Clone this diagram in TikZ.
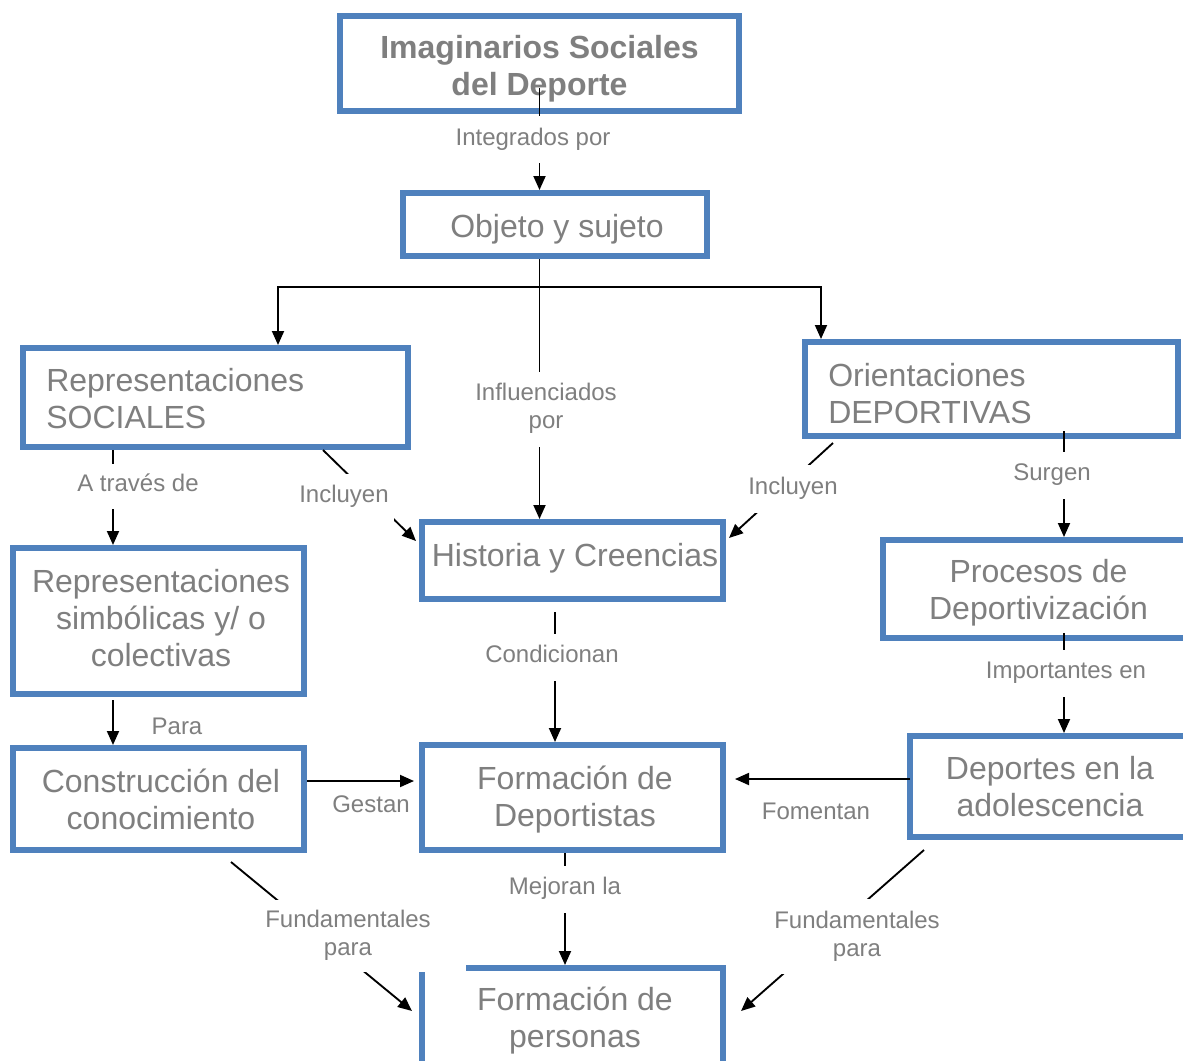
\documentclass[tikz,border=0pt]{standalone}
\usepackage{fontspec}
\setmainfont{Liberation Sans}
\usetikzlibrary{arrows.meta,calc}
\definecolor{boxblue}{HTML}{4F81BD}
\definecolor{txtgray}{HTML}{7F7F7F}
\tikzset{
  box/.style={draw=boxblue, line width=4.5pt, rectangle, inner sep=0pt},
  btxt/.style={font=\fontsize{24}{27.75}\selectfont, text=txtgray, align=center, inner sep=0pt},
  ttl/.style={font=\bfseries\fontsize{24}{27.75}\selectfont, text=txtgray, align=center, inner sep=0pt},
  lbl/.style={font=\fontsize{18}{21}\selectfont, text=txtgray, align=center, inner sep=0pt, fill=white},
  conn/.style={line width=1.4pt, -{Triangle[length=10.5pt,width=9pt]}},
}
\begin{document}
\begin{tikzpicture}[x=0.75pt,y=-0.75pt]
\useasboundingbox (0,0) rectangle (1183,1061);
\clip (0,0) rectangle (1183,1061);
\fill[white] (0,0) rectangle (1183,1061);

% boxes
\node[box, minimum width=299.25pt, minimum height=71.25pt] (title) at (539.5,63.5) {};
\node[box, minimum width=228pt, minimum height=47.25pt] (objeto) at (555,224.5) {};
\node[box, minimum width=288.75pt, minimum height=74.25pt] (repsoc) at (215.5,397.5) {};
\node[box, minimum width=279.75pt, minimum height=70.5pt] (orient) at (991.5,389) {};
\node[box, minimum width=225.75pt, minimum height=57.75pt] (hist) at (572.5,560.5) {};
\node[box, minimum width=218.25pt, minimum height=109.5pt] (repsimb) at (158.5,621) {};
\node[box, minimum width=237.75pt, minimum height=73.5pt] (procesos) at (1041.5,589) {};
\node[box, minimum width=218.25pt, minimum height=76.5pt] (construc) at (158.5,799) {};
\node[box, minimum width=225.75pt, minimum height=78.75pt] (formdep) at (572.5,797.5) {};
\node[box, minimum width=217.5pt, minimum height=75.75pt] (deportes) at (1055,786.5) {};
\node[box, minimum width=225.75pt, minimum height=80.25pt] (formper) at (572.5,1021.5) {};

% box texts
\node[ttl, anchor=north] (ttitle) at (539.5,32) {Imaginarios Sociales\strut\\del Deporte\strut};
\node[btxt, anchor=north] (tobjeto) at (557,211) {Objeto y sujeto\strut};
\node[btxt, anchor=north west, align=left] (trepsoc) at (46,365.5) {Representaciones\strut\\SOCIALES\strut};
\node[btxt, anchor=north west, align=left] (torient) at (828,360.5) {Orientaciones\strut\\DEPORTIVAS\strut};
\node[btxt, anchor=north] (thist) at (575,540) {Historia y Creencias\strut};
\node[btxt, anchor=north] (trepsimb) at (161,566) {Representaciones\strut\\simbólicas y/ o\strut\\colectivas\strut};
\node[btxt, anchor=north] (tprocesos) at (1038.5,556.5) {Procesos de\strut\\Deportivización\strut};
\node[btxt, anchor=north] (tconstruc) at (161,766) {Construcción del\strut\\conocimiento\strut};
\node[btxt, anchor=north] (tformdep) at (575,763.5) {Formación de\strut\\Deportistas\strut};
\node[btxt, anchor=north] (tdeportes) at (1050,753.5) {Deportes en la\strut\\adolescencia\strut};
\node[btxt, anchor=north] (tformper) at (575,984) {Formación de\strut\\personas\strut};

% connectors
\coordinate (br) at (539.5,287);
\draw[conn] ([yshift=19.5pt]title.south) -- (title.south |- objeto.north);
\draw[conn] (title.south |- objeto.south) -- (title.south |- hist.north);
\draw[conn] (br) -| ($(repsoc.north west)+(258,0)$);
\draw[conn] (br) -| ($(orient.north west)+(19,0)$);
\draw[conn] ($(repsoc.south west)+(93,0)$) -- ($(repsimb.north west)+(103,0)$);
\draw[conn] ($(repsoc.south east)+(-88,0)$) -- ($(hist.north west)+(-3,22)$);
\draw[conn] ($(orient.south west)+(31,4)$) -- ($(hist.north east)+(3,19)$);
\draw[conn] ($(orient.south west)+(262,-8)$) -- ($(procesos.north west)+(184,0)$);
\draw[conn] ($(hist.south)+(-17.5,10)$) -- ($(formdep.north)+(-17.5,0)$);
\draw[conn] ($(repsimb.south west)+(103,3)$) -- ($(construc.north west)+(103,0)$);
\draw[conn] ($(construc.east)+(0,-18)$) -- ($(formdep.west)+(-5,-16.5)$);
\draw[conn] ($(procesos.south west)+(184,-8)$) -- ($(deportes.north west)+(157,0)$);
\draw[conn] ($(deportes.west)+(3,-7.5)$) -- ($(formdep.east)+(9,-18.5)$);
\draw[conn] ($(formdep.south)+(-7.5,0)$) -- ($(formper.north)+(-7.5,0)$);
\draw[conn] ($(construc.south east)+(-76,9)$) -- ($(formper.north west)+(-7,46)$);
\draw[conn] ($(deportes.south west)+(17,10)$) -- ($(formper.north east)+(15,46)$);

% labels
\node[lbl, minimum width=127.5pt, minimum height=35.25pt] (l1) at (533,139.5) {Integrados por\strut};
\node[lbl, minimum width=120pt, minimum height=56.25pt] (l2) at (546,409) {Influenciados\strut\\por\strut};
\node[lbl, minimum width=97.5pt, minimum height=33.75pt] (l3) at (138,486) {A través de\strut};
\node[lbl, minimum width=75pt, minimum height=35.25pt] (l4) at (344,497) {Incluyen\strut};
\node[lbl, minimum width=75pt, minimum height=36pt] (l5) at (793,488.5) {Incluyen\strut};
\node[lbl, minimum width=67.5pt, minimum height=35.25pt] (l6) at (1052,475) {Surgen\strut};
\node[lbl, minimum width=105pt, minimum height=35.25pt] (l7) at (552,657) {Condicionan\strut};
\node[lbl, minimum width=127.5pt, minimum height=35.25pt] (l8) at (1066,673) {Importantes en\strut};
\node[lbl] (l9) at (177,728.5) {Para\strut};
\node[lbl] (l10) at (371,806.5) {Gestan\strut};
\node[lbl] (l11) at (816,813.5) {Fomentan\strut};
\node[lbl, minimum width=97.5pt, minimum height=35.25pt] (l12) at (565,889) {Mejoran la\strut};
\node[lbl, minimum width=177pt, minimum height=54pt] (l13) at (348,936) {Fundamentales\strut\\para\strut};
\node[lbl, minimum width=135pt, minimum height=56.25pt] (l14) at (857,936.5) {Fundamentales\strut\\para\strut};
\end{tikzpicture}
\end{document}
